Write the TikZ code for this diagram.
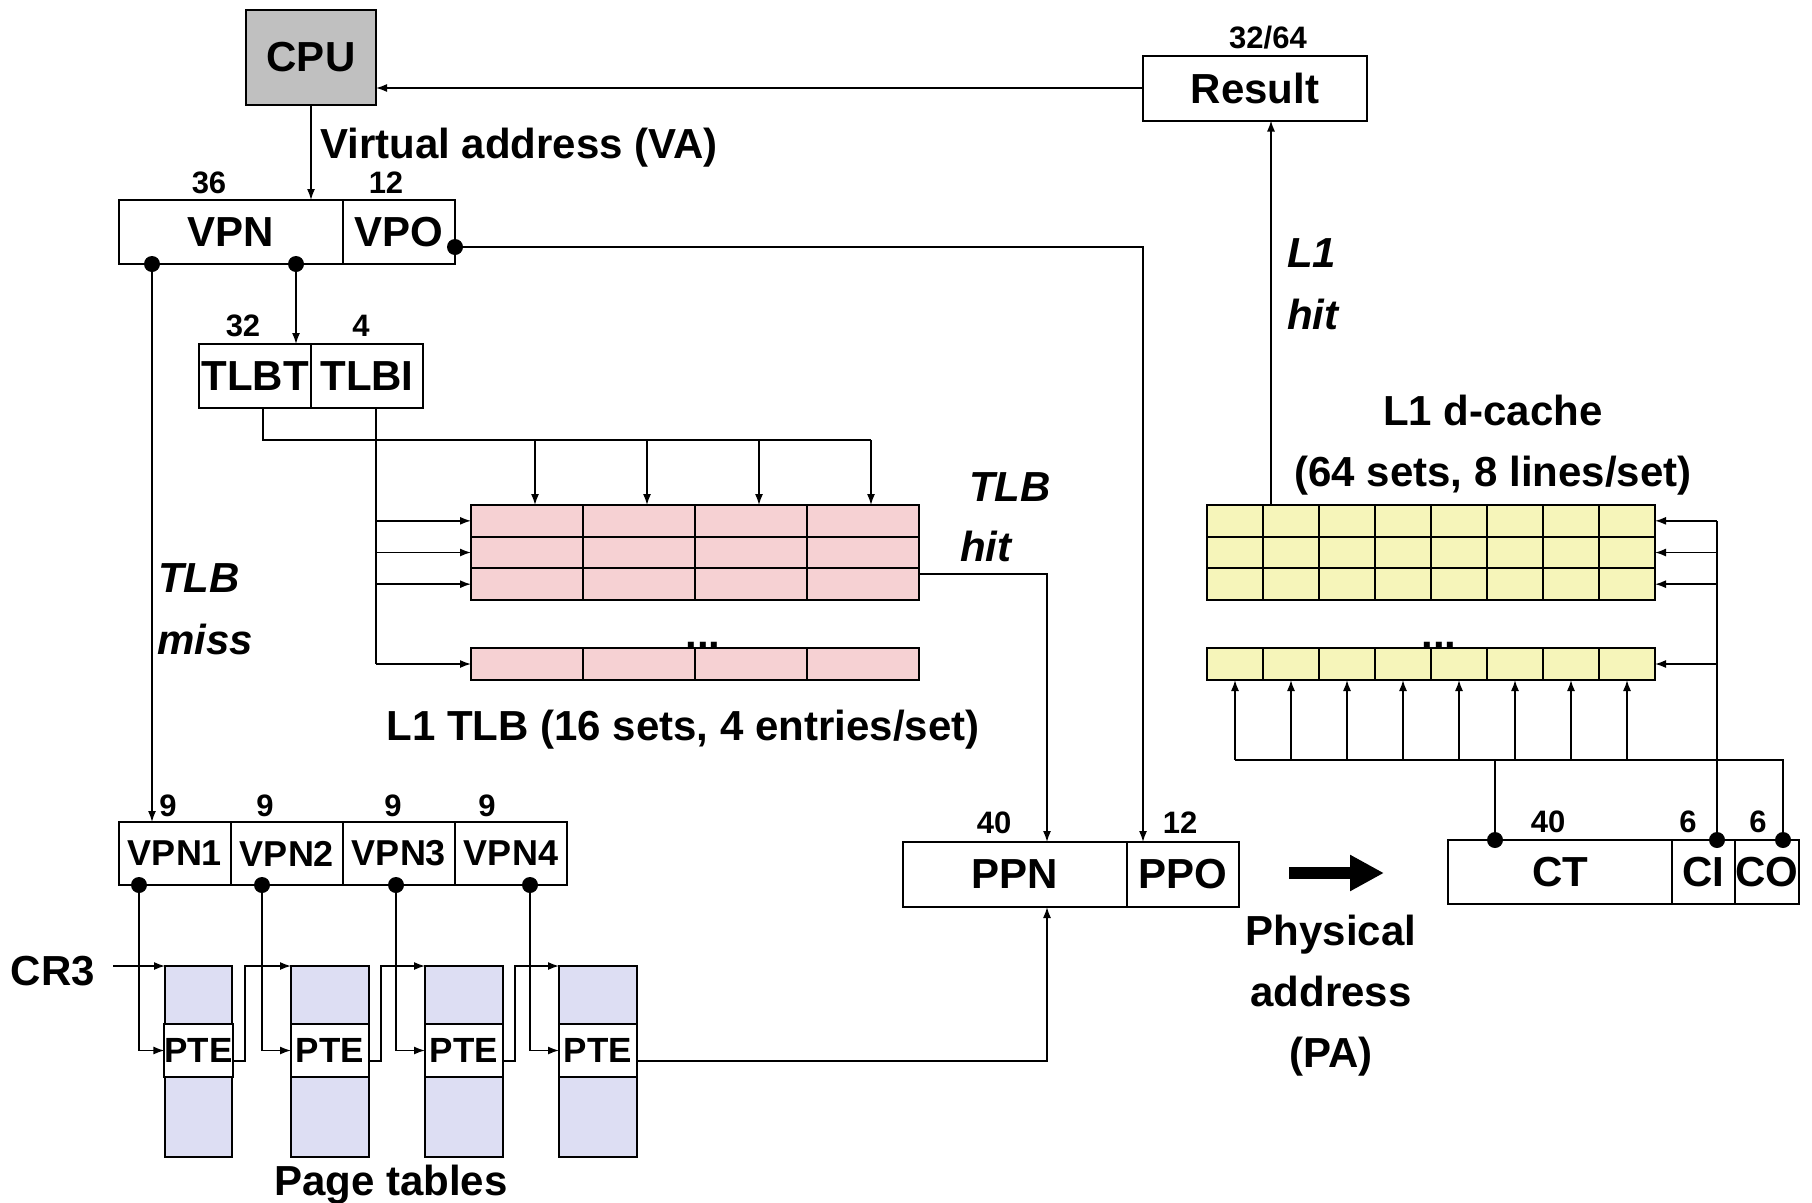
\documentclass[tikz,border=0pt]{standalone}
\usepackage{fontspec}
\setmainfont{Liberation Sans}
\usetikzlibrary{arrows.meta}
\definecolor{cpugray}{RGB}{192,192,192}
\definecolor{tlbpink}{RGB}{246,209,211}
\definecolor{cacheyel}{RGB}{246,245,186}
\definecolor{ptblue}{RGB}{221,222,243}
\tikzset{
  big/.style={font=\bfseries\fontsize{42}{50}\selectfont},
  mid/.style={font=\bfseries\fontsize{36}{42}\selectfont},
  numlab/.style={font=\bfseries\fontsize{31}{36}\selectfont, anchor=base, inner sep=0},
  itlab/.style={font=\bfseries\itshape\fontsize{42}{48}\selectfont, anchor=base west, inner sep=0},
  txt/.style={big, anchor=base, inner sep=0},
  regbox/.style={draw, line width=2pt, inner sep=0, outer sep=0, big},
  cell/.style={draw, line width=2pt, inner sep=0, outer sep=0},
  wire/.style={line width=1.5pt},
  conn/.style={line width=1.5pt, -{Latex[length=11pt,width=8pt]}},
  bigdot/.style={circle, fill=black, inner sep=0, minimum size=16pt},
}
\begin{document}
\begin{tikzpicture}[x=1pt,y=-1pt]
\useasboundingbox (0,0) rectangle (1812,1202);
% ---------- registers ----------
\node[regbox, fill=cpugray, minimum width=130, minimum height=95] (cpu) at (311,57.5) {CPU};
\node[regbox, minimum width=224, minimum height=65] (result) at (1255,88) {Result};
\node[regbox, minimum width=224, minimum height=64] (vpn) at (231,232) {VPN};
\node[regbox, minimum width=112, minimum height=64] (vpo) at (399,232) {VPO};
\node[regbox, minimum width=112, minimum height=64] (tlbt) at (255,376) {TLBT};
\node[regbox, minimum width=112, minimum height=64] (tlbi) at (367,376) {TLBI};
\node[regbox, mid, minimum width=112, minimum height=63] (vpn1) at (175,853.5) {VPN1};
\node[regbox, mid, minimum width=112, minimum height=63] (vpn2) at (287,853.5) {VPN2};
\node[regbox, mid, minimum width=112, minimum height=63] (vpn3) at (399,853.5) {VPN3};
\node[regbox, mid, minimum width=112, minimum height=63] (vpn4) at (511,853.5) {VPN4};
\node[regbox, minimum width=224, minimum height=65] (ppn) at (1015,874.5) {PPN};
\node[regbox, minimum width=112, minimum height=65] (ppo) at (1183,874.5) {PPO};
\node[regbox, minimum width=224, minimum height=64] (ct) at (1560,872) {CT};
\node[regbox, minimum width=63, minimum height=64] (ci) at (1703.5,872) {CI};
\node[regbox, minimum width=64, minimum height=64] (co) at (1767,872) {CO};
% ---------- page tables ----------
\foreach \i/\xl/\w in {1/165/67,2/291/78,3/425/78,4/559/78} {
  \node[cell, fill=ptblue, minimum width=\w, minimum height=58] (ptt\i) at ({\xl+\w/2},995) {};
  \node[cell, fill=white, minimum width=\w, minimum height=53, font=\bfseries\fontsize{35}{40}\selectfont] (pte\i) at ({\xl+\w/2},1050.5) {PTE};
  \node[cell, fill=ptblue, minimum width=\w, minimum height=80] (ptb\i) at ({\xl+\w/2},1117) {};
}
% ---------- TLB ----------
\foreach \c in {1,...,4} {
  \foreach \r in {1,2,3} {
    \node[cell, fill=tlbpink, minimum width=112, minimum height=31.67] (tlb-\r-\c) at ({415+112*\c},{489.17+31.67*\r}) {};
  }
  \node[cell, fill=tlbpink, minimum width=112, minimum height=32] (tlbL-\c) at ({415+112*\c},664) {};
}
% ---------- cache ----------
\foreach \c in {1,...,8} {
  \foreach \r in {1,2,3} {
    \node[cell, fill=cacheyel, minimum width=56, minimum height=31.67] (c-\r-\c) at ({1179+56*\c},{489.17+31.67*\r}) {};
  }
  \node[cell, fill=cacheyel, minimum width=56, minimum height=32] (cL-\c) at ({1179+56*\c},664) {};
}
% ---------- dots ----------
\node[bigdot] (dvpo) at (455,247) {};
\node[bigdot] (dvpn1) at (152,264) {};
\node[bigdot] (dvpn2) at (296,264) {};
\node[bigdot] (dv1) at (139,885) {};
\node[bigdot] (dv2) at (262,885) {};
\node[bigdot] (dv3) at (396,885) {};
\node[bigdot] (dv4) at (530,885) {};
\node[bigdot] (dct) at (1495,840) {};
\node[bigdot] (dci) at (1717,840) {};
\node[bigdot] (dco) at (1783,840) {};
% ---------- coordinates ----------
\coordinate (ppoin) at (1143,842);
\coordinate (tbtop) at (263,408);
\coordinate (tbus) at (871,440);
\coordinate (tibtop) at (376,408);
\coordinate (tibot) at (376,664);
\coordinate (hitout) at (919,574);
\coordinate (ppnin) at (1047,842);
\coordinate (pte4out) at (637,1061);
\coordinate (ppnbot) at (1047,907);
\coordinate (o1) at (232,1061);
\coordinate (k1) at (245,1061);
\coordinate (o2) at (369,1061);
\coordinate (k2) at (381,1061);
\coordinate (o3) at (503,1061);
\coordinate (k3) at (515,1061);
\coordinate (cr3s) at (113,966);
\coordinate (cbus) at (1783,760);
\coordinate (hitc) at (1271,505);
\coordinate (pa1) at (1289,873);
\coordinate (pa2) at (1384,873);
% ---------- connectors ----------
\draw[conn] (result.west) -- (result.west -| cpu.east);
\draw[conn] (cpu.south) -- (cpu.south |- vpn.north);
\draw[conn] (dvpo.center) -| (ppoin);
\draw[conn] (dvpn2.center) -- (dvpn2.center |- tlbt.north);
\draw[conn] (dvpn1.center) -- (dvpn1.center |- vpn1.north);
\draw[wire] (tbtop) |- (tbus);
\foreach \c in {1,...,4} \draw[conn] ([xshift=8pt]tlb-1-\c.north |- tbus) -- ([xshift=8pt]tlb-1-\c.north);
\draw[wire] (tibtop) -- (tibot);
\foreach \r in {1,2,3} \draw[conn] (tlb-\r-1.west -| tibot) -- (tlb-\r-1.west);
\draw[conn] (tibot) -- (tlbL-1.west);
\draw[conn] (hitout) -| (ppnin);
\draw[conn] (pte4out) -| (ppnbot);
\foreach \i in {1,...,4} \draw[conn] (dv\i.center) |- (pte\i.west);
\draw[conn] (o1) -- (k1) |- (ptt2.north west);
\draw[conn] (o2) -- (k2) |- (ptt3.north west);
\draw[conn] (o3) -- (k3) |- (ptt4.north west);
\draw[conn] (cr3s) -- (ptt1.north west);
\draw[wire] (dci.center) -- (c-1-8.east -| dci.center);
\foreach \r in {1,2,3} \draw[conn] (c-\r-8.east -| dci.center) -- (c-\r-8.east);
\draw[conn] (cL-8.east -| dci.center) -- (cL-8.east);
\draw[wire] (dco.center) -- (cbus) -- (cL-1.south |- cbus);
\draw[wire] (dct.center) -- (dct.center |- cbus);
\foreach \c in {1,...,8} \draw[conn] (cL-\c.south |- cbus) -- (cL-\c.south);
\draw[conn] (hitc) -- (hitc |- result.south);
\draw[line width=12pt, -{Triangle[length=34pt,width=34pt]}] (pa1) -- (pa2);
% ---------- labels ----------
\node[txt, anchor=base west] (va) at (320,158) {Virtual address (VA)};
\node[numlab] (n36) at (209,193) {36};
\node[numlab] (n12a) at (386,193) {12};
\node[numlab] (n32) at (243,336) {32};
\node[numlab] (n4) at (361,336) {4};
\node[numlab] (n3264) at (1268,48) {32/64};
\node[numlab] (n9a) at (168,816) {9};
\node[numlab] (n9b) at (265,816) {9};
\node[numlab] (n9c) at (393,816) {9};
\node[numlab] (n9d) at (487,816) {9};
\node[numlab] (n40a) at (994,833) {40};
\node[numlab] (n12b) at (1180,833) {12};
\node[numlab] (n40b) at (1548,832) {40};
\node[numlab] (n6a) at (1688,832) {6};
\node[numlab] (n6b) at (1758,832) {6};
\node[itlab] (tm1) at (158,592) {TLB};
\node[itlab] (tm2) at (157,654) {miss};
\node[itlab] (th1) at (969,501) {TLB};
\node[itlab] (th2) at (960,561) {hit};
\node[itlab] (lh1) at (1287,267) {L1};
\node[itlab] (lh2) at (1287,329) {hit};
\node[txt] (tlbcap) at (683,740) {L1 TLB (16 sets, 4 entries/set)};
\node[txt] (dc1) at (1493,425) {L1 d-cache};
\node[txt] (dc2) at (1493,486) {(64 sets, 8 lines/set)};
\node[txt] (tdots) at (703,648) {...};
\node[txt] (cdots) at (1439,648) {...};
\node[txt] (cr3) at (53,985) {CR3};
\node[txt] (pa) at (1331,945) {Physical};
\node[txt] (pb) at (1331,1006) {address};
\node[txt] (pc) at (1331,1067) {(PA)};
\node[txt] (ptl) at (391,1195) {Page tables};
\end{tikzpicture}
\end{document}
